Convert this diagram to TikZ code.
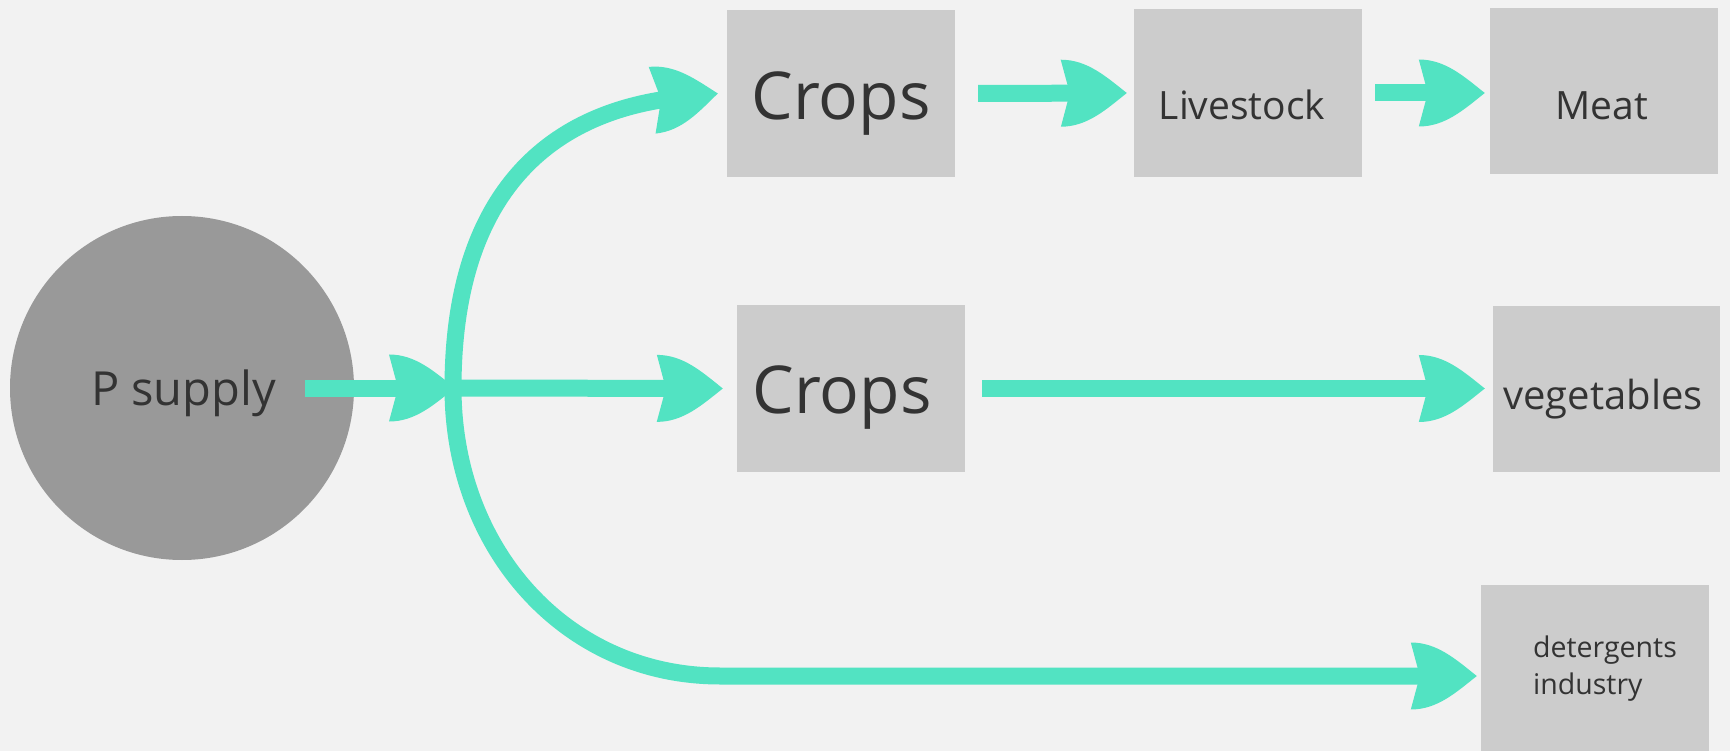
\documentclass[tikz,border=0pt]{standalone}
\usepackage{fontspec}
\setmainfont{Open Sans}
\usetikzlibrary{arrows.meta,calc}
\definecolor{bgc}{HTML}{F2F2F2}
\definecolor{boxc}{HTML}{CCCCCC}
\definecolor{circc}{HTML}{999999}
\definecolor{flowc}{HTML}{52E3C2}
\definecolor{txtc}{HTML}{333333}
\pgfdeclarearrow{
  name = Leaf,
  parameters = {\the\pgfarrowlength,\the\pgfarrowwidth,\the\pgfarrowinset},
  setup code = {
    \pgfarrowssettipend{0pt}
    \pgfarrowssetlineend{-.55\pgfarrowlength}
    \pgfarrowssetvisualbackend{-\pgfarrowlength}
    \pgfarrowshullpoint{0pt}{0pt}
    \pgfarrowsupperhullpoint{-\pgfarrowlength}{.5\pgfarrowwidth}
    \pgfarrowssavethe\pgfarrowlength
    \pgfarrowssavethe\pgfarrowwidth
    \pgfarrowssavethe\pgfarrowinset
  },
  drawing code = {
    \pgfpathmoveto{\pgfpointorigin}
    \pgfpathcurveto{\pgfpoint{-.32\pgfarrowlength}{.25\pgfarrowwidth}}{\pgfpoint{-.6\pgfarrowlength}{.5\pgfarrowwidth}}{\pgfpoint{-\pgfarrowlength}{.5\pgfarrowwidth}}
    \pgfpathlineto{\pgfpoint{-\pgfarrowlength+\pgfarrowinset}{0pt}}
    \pgfpathlineto{\pgfpoint{-\pgfarrowlength}{-.5\pgfarrowwidth}}
    \pgfpathcurveto{\pgfpoint{-.6\pgfarrowlength}{-.5\pgfarrowwidth}}{\pgfpoint{-.32\pgfarrowlength}{-.25\pgfarrowwidth}}{\pgfpointorigin}
    \pgfpathclose
    \pgfusepathqfill
  },
  defaults = {length = 66pt, width = 67pt, inset = 9pt}
}
\begin{document}
\begin{tikzpicture}[x=1pt,y=-1pt,
  box/.style={fill=boxc, draw=none, minimum width=228pt, minimum height=167pt, inner sep=0pt},
  txt/.style={text=txtc, inner sep=0pt, anchor=base},
  flow/.style={draw=flowc, line width=17pt, line cap=butt, -{Leaf}}]
\fill[bgc] (0,0) rectangle (1730,751);
\useasboundingbox (0,0) rectangle (1730,751);
% nodes
\node[circle, fill=circc, minimum size=344pt, inner sep=0pt] (ps) at (182,388) {};
\node[box] (c1) at (841,93.5) {};
\node[box, minimum height=168pt] (live) at (1248,93) {};
\node[box, minimum height=166pt] (meat) at (1604,91) {};
\node[box] (c2) at (851,388.5) {};
\node[box, minimum width=227pt, minimum height=166pt] (veg) at (1606.5,389) {};
\node[box, minimum height=166pt] (det) at (1595,668) {};
% texts
\node[txt, font=\fontsize{47pt}{52pt}\selectfont] (tps) at (183.5,405) {P supply};
\node[txt, font=\fontsize{66pt}{72pt}\selectfont] (t1) at (841,120) {Crops};
\node[txt, font=\fontsize{66pt}{72pt}\selectfont] (t2) at (842,413) {Crops};
\node[txt, font=\fontsize{39pt}{44pt}\selectfont] (tl) at (1242,120) {Livestock};
\node[txt, font=\fontsize{39pt}{44pt}\selectfont] (tm) at (1602,120) {Meat};
\node[txt, font=\fontsize{40pt}{45pt}\selectfont] (tv) at (1603,409) {vegetables};
\node[txt, anchor=base west, font=\fontsize{28.5pt}{32pt}\selectfont] (td1) at (1533,657) {detergents};
\node[txt, anchor=base west, font=\fontsize{28.5pt}{32pt}\selectfont] (td2) at (1533,694) {industry};
% connectors
\coordinate (jn) at (453,388);
\coordinate (psout) at ($(ps.center)+(123,0)$);
\coordinate (bend) at (720,676);
\draw[flow] (psout) -- ([xshift=2pt]jn);
\draw[flow] (jn) .. controls +(0,-188) and +(-175,18) .. ([xshift=-9pt]c1.west);
\draw[flow] (jn) -- ([xshift=-14pt]c2.west);
\draw[flow] (jn) .. controls +(0,160) and +(-155,0) .. (bend) -- ($(bend -| det.west)+(-4,0)$);
\draw[flow] ([xshift=23pt]c1.east) -- ([xshift=-7pt]live.west);
\draw[flow] ([xshift=13pt]live.east) -- ($(live.east -| meat.west)+(-5,0)$);
\draw[flow] ([xshift=17pt]c2.east) -- ($(c2.east -| veg.west)+(-8,0)$);
\end{tikzpicture}
\end{document}
